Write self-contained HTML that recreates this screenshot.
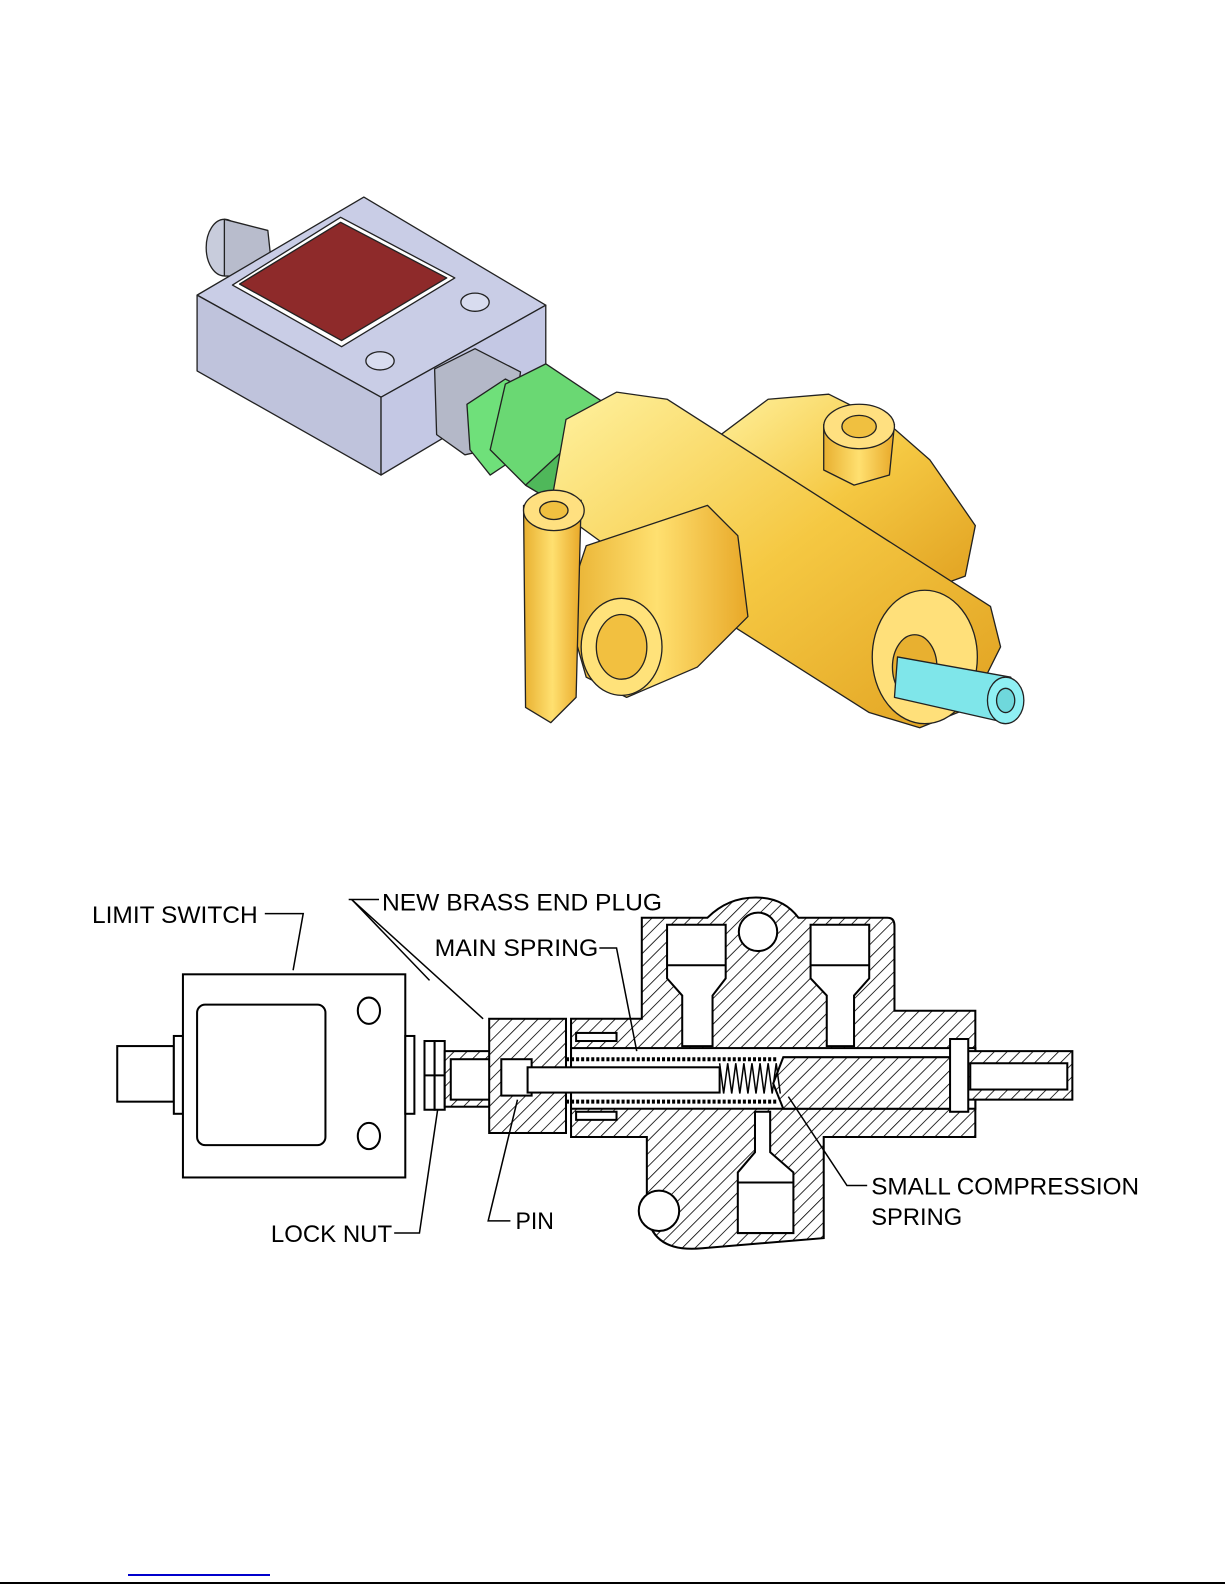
<!DOCTYPE html>
<html><head><meta charset="utf-8"><style>
html,body{margin:0;padding:0;background:#fff;}
svg{display:block;}
text{font-family:"Liberation Sans",sans-serif;font-size:24px;fill:#000;}
</style></head><body>
<svg width="1225" height="1585" viewBox="0 0 1225 1585" xmlns="http://www.w3.org/2000/svg">
<defs>
<pattern id="h" patternUnits="userSpaceOnUse" width="9" height="9" patternTransform="rotate(45)">
<rect width="9" height="9" fill="#fff"/><line x1="0" y1="0" x2="0" y2="9" stroke="#000" stroke-width="1.6"/></pattern>
<linearGradient id="y1" x1="0" y1="0" x2="1" y2="1"><stop offset="0" stop-color="#fff2a0"/><stop offset="0.5" stop-color="#f5c842"/><stop offset="1" stop-color="#e0a020"/></linearGradient>
<linearGradient id="y2" x1="0" y1="0" x2="1" y2="0"><stop offset="0" stop-color="#e8b030"/><stop offset="0.5" stop-color="#ffe070"/><stop offset="1" stop-color="#e8a828"/></linearGradient>
</defs>
<g transform="scale(1.0107)">
<!-- ===== 3D view ===== -->
<g stroke="#222" stroke-width="1.3" stroke-linejoin="round">
<ellipse cx="222" cy="245" rx="18" ry="28" fill="#c8ccdc"/>
<path d="M222,217 L265,228 L270,275 L222,273 Z" fill="#b8bccc"/>
<polygon points="195,292 360,195 540,302 377,393" fill="#c9cde6"/>
<polygon points="195,292 377,393 377,470 195,367" fill="#bfc3dc"/>
<polygon points="377,393 540,302 540,373 377,470" fill="#c4c8e4"/>
<polygon points="230,282 337,215 450,275 338,343" fill="#fff"/>
<polygon points="237,281 337,220 442,275 338,337" fill="#8e2a2a"/>
<ellipse cx="470" cy="299" rx="14" ry="9" fill="#d8dcef"/>
<ellipse cx="376" cy="357" rx="14" ry="9" fill="#d8dcef"/>
<path d="M430,365 L470,345 L515,368 L505,440 L460,450 L432,430 Z" fill="#b4b8c8"/>
<path d="M462,400 L500,375 L520,385 L530,440 L485,470 L465,445 Z" fill="#6fe07a"/>
<path d="M500,380 L540,360 L600,400 L590,470 L545,495 L520,480 L485,445 Z" fill="#6ad873"/>
<path d="M520,480 L545,495 L590,470 L585,420 Z" fill="#4fb85a"/>
<path d="M700,440 L760,395 L820,390 L880,420 L920,455 L965,520 L955,570 L900,590 L760,560 Z" fill="url(#y1)"/>
<path d="M560,415 L610,388 L660,395 L980,600 L990,640 L960,700 L910,720 L860,705 L600,540 L545,500 Z" fill="url(#y1)"/>
<path d="M560,600 L580,540 L700,500 L730,530 L740,610 L690,660 L620,690 L580,670 Z" fill="url(#y2)"/>
<ellipse cx="615" cy="640" rx="40" ry="48" fill="#ffe27a"/>
<ellipse cx="615" cy="640" rx="25" ry="32" fill="#f2c040"/>
<path d="M518,500 L575,495 L570,690 L545,715 L520,700 Z" fill="url(#y2)"/>
<ellipse cx="548" cy="505" rx="30" ry="20" fill="#ffe080"/>
<ellipse cx="548" cy="505" rx="14" ry="9" fill="#f0c040"/>
<path d="M815,420 L885,420 L880,470 L845,480 L815,465 Z" fill="url(#y2)"/>
<ellipse cx="850" cy="422" rx="35" ry="22" fill="#ffe080"/>
<ellipse cx="850" cy="422" rx="17" ry="11" fill="#f0c040"/>
<ellipse cx="915" cy="650" rx="52" ry="66" fill="#ffe07a"/>
<ellipse cx="905" cy="660" rx="22" ry="32" fill="#e8b030"/>
<path d="M888,650 L1000,670 L1012,700 L995,715 L885,690 Z" fill="#7fe6ea"/>
<ellipse cx="995" cy="693" rx="18" ry="23" fill="#8ff0f4"/>
<ellipse cx="995" cy="693" rx="9" ry="12" fill="#6fd8dc"/>
</g>

<!-- ===== Section view ===== -->
<g stroke="#000" stroke-width="2" fill="none">
<rect x="116" y="1035" width="56" height="55" fill="#fff"/>
<rect x="172" y="1025" width="9" height="77" fill="#fff"/>
<rect x="181" y="964" width="220" height="201" fill="#fff"/>
<rect x="195" y="994" width="127" height="139" rx="8" fill="#fff"/>
<ellipse cx="365" cy="1000" rx="11" ry="13"/>
<ellipse cx="365" cy="1124" rx="11" ry="13"/>
<rect x="401" y="1025" width="9" height="77" fill="#fff"/>
<rect x="420" y="1030" width="10" height="68" fill="#fff"/>
<rect x="430" y="1030" width="10" height="68" fill="#fff"/>
<line x1="420" y1="1064" x2="440" y2="1064"/>
<rect x="440" y="1040" width="45" height="55" fill="url(#h)"/>
<rect x="446" y="1048" width="39" height="40" fill="#fff"/>
<rect x="484" y="1008" width="76" height="113" fill="url(#h)"/>
<rect x="496" y="1048" width="30" height="36" fill="#fff"/>
<path d="M565,1008 L635,1008 L635,908 L700,908 Q720,888 748,888 Q775,888 790,908 L878,908 Q885,908 885,916 L885,1000 L965,1000 L965,1125 L815,1125 L815,1225 L695,1235 Q645,1240 640,1200 L640,1125 L565,1125 Z" fill="url(#h)"/>
<path d="M660,915 L718,915 L718,968 L705,985 L705,1035 L675,1035 L675,985 L660,968 Z" fill="#fff"/>
<line x1="660" y1="955" x2="718" y2="955"/>
<path d="M802,915 L860,915 L860,968 L845,985 L845,1035 L818,1035 L818,985 L802,968 Z" fill="#fff"/>
<line x1="802" y1="955" x2="860" y2="955"/>
<circle cx="750" cy="922" r="19" fill="#fff"/>
<path d="M747,1100 L762,1100 L762,1140 L785,1160 L785,1220 L730,1220 L730,1160 L747,1140 Z" fill="#fff"/>
<line x1="730" y1="1170" x2="785" y2="1170"/>
<circle cx="652" cy="1198" r="20" fill="#fff"/>
<rect x="565" y="1037" width="400" height="60" fill="#fff"/>
<rect x="570" y="1022" width="40" height="8" fill="#fff"/>
<rect x="570" y="1100" width="40" height="8" fill="#fff"/>
<path d="M775,1046 L945,1046 L945,1097 L775,1097 L765,1072 Z" fill="url(#h)"/>
<rect x="522" y="1056" width="190" height="25" fill="#fff"/>
<line x1="560" y1="1048" x2="770" y2="1048" stroke-dasharray="3 2" stroke-width="4"/>
<line x1="560" y1="1090" x2="770" y2="1090" stroke-dasharray="3 2" stroke-width="4"/>
<path d="M712,1052 l4,30 l4,-30 l4,30 l4,-30 l4,30 l4,-30 l4,30 l4,-30 l4,30 l4,-30 l4,30 l4,-30 l4,30 l4,-30 l4,30" stroke-width="1.5"/>
<rect x="945" y="1040" width="116" height="48" fill="url(#h)"/>
<rect x="960" y="1052" width="96" height="26" fill="#fff"/>
<rect x="940" y="1028" width="18" height="72" fill="#fff"/>
<g stroke-width="1.5">
<polyline points="262,904 300,904 290,960"/>
<line x1="375" y1="890" x2="345" y2="890"/>
<line x1="348" y1="890" x2="478" y2="1008"/>
<line x1="348" y1="890" x2="425" y2="970"/>
<polyline points="593,938 610,938 630,1040"/>
<polyline points="390,1220 415,1220 433,1098"/>
<polyline points="505,1208 483,1208 512,1088"/>
<polyline points="858,1173 838,1173 780,1085"/>
</g>
</g>
<text x="91" y="913" textLength="164" lengthAdjust="spacingAndGlyphs">LIMIT SWITCH</text>
<text x="378" y="901" textLength="277" lengthAdjust="spacingAndGlyphs">NEW BRASS END PLUG</text>
<text x="430" y="946" textLength="162" lengthAdjust="spacingAndGlyphs">MAIN SPRING</text>
<text x="268" y="1229" textLength="120" lengthAdjust="spacingAndGlyphs">LOCK NUT</text>
<text x="510" y="1216" textLength="38" lengthAdjust="spacingAndGlyphs">PIN</text>
<text x="862" y="1182" textLength="265" lengthAdjust="spacingAndGlyphs">SMALL COMPRESSION</text>
<text x="862" y="1212" textLength="90" lengthAdjust="spacingAndGlyphs">SPRING</text>
</g>
<line x1="128" y1="1575" x2="270" y2="1575" stroke="#0000cc" stroke-width="2"/>
<line x1="0" y1="1583" x2="1225" y2="1583" stroke="#000" stroke-width="2"/>
</svg>
</body></html>
